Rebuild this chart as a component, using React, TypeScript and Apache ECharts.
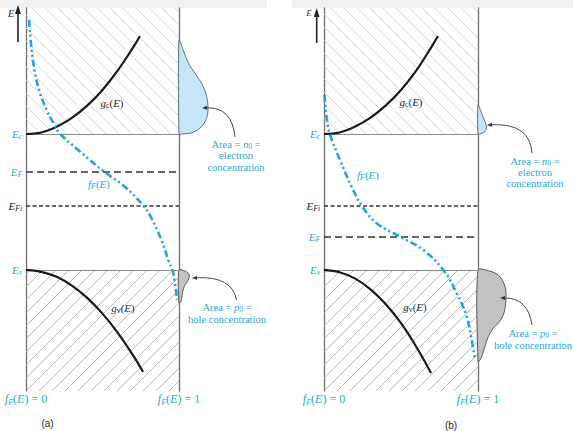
import React, { useEffect, useRef } from "react";
import * as echarts from "echarts";

const BLUE = "#29a8e0";
const CURVE_BLUE = "#1ca4e4";
const SERIF = "'Liberation Serif', 'DejaVu Serif', serif";

const E_MIN = 0;
const E_MAX = 100;

// energy levels: Ec, EF, EFi, Ev
const levelSubs = ["c", "F", "Fi", "v"];
const levelsA = [67.1, 57.2, 48.3, 31.6];
const levelsB = [67.1, 40.2, 48.3, 31.6];

// density of states curves (x = relative g, E)
const gcA = [[0, 67.1], [0.1, 67.5], [0.2, 69.0], [0.3, 71.3], [0.4, 74.5], [0.5, 78.6], [0.6, 83.7], [0.7, 89.7], [0.745, 92.7]];
const gvA = [[0, 31.6], [0.1, 31.1], [0.2, 29.8], [0.3, 27.5], [0.4, 24.3], [0.5, 20.2], [0.6, 15.2], [0.7, 9.3], [0.765, 5.0]];
const gcB = [[0, 67.1], [0.1, 67.5], [0.2, 69.0], [0.3, 71.3], [0.4, 74.5], [0.5, 78.6], [0.6, 83.7], [0.7, 90.0], [0.74, 92.7]];
const gvB = [[0, 31.6], [0.1, 31.0], [0.2, 29.4], [0.3, 26.6], [0.4, 22.7], [0.5, 17.7], [0.6, 11.5], [0.695, 4.7]];

// Fermi-Dirac functions (x = fF(E), E)
const fFA = [[0.02, 96.9], [0.037, 89.0], [0.059, 83.0], [0.092, 77.8], [0.135, 73.4], [0.179, 70.0], [0.218, 67.4], [0.342, 62.9], [0.516, 57.1], [0.647, 53.3], [0.767, 48.4], [0.82, 45.1], [0.886, 39.4], [0.93, 34.2], [0.962, 30.8], [0.987, 23.8]];
const fFB = [[0.003, 77.3], [0.017, 71.6], [0.039, 67.0], [0.104, 60.3], [0.18, 53.3], [0.245, 48.4], [0.342, 43.8], [0.494, 40.3], [0.645, 36.8], [0.775, 31.6], [0.862, 25.5], [0.927, 19.4], [0.959, 13.3], [0.981, 8.1]];

// carrier concentration shapes (x measured past fF = 1)
const n0A = [[1.0, 91.6], [1.028, 89.0], [1.061, 85.6], [1.105, 82.9], [1.148, 80.3], [1.176, 77.7], [1.188, 75.1], [1.188, 72.5], [1.17, 70.3], [1.137, 68.6], [1.083, 67.4], [1.018, 67.1], [1.0, 67.1]];
const p0A = [[1.0, 31.6], [1.05, 31.1], [1.067, 30.3], [1.061, 29.0], [1.039, 27.7], [1.024, 25.9], [1.013, 23.3], [1.0, 23.1]];
const n0B = [[1.0, 74.7], [1.024, 72.5], [1.045, 70.3], [1.056, 69.0], [1.045, 67.7], [1.013, 67.1], [1.0, 67.1]];
const p0B = [[1.0, 31.6], [1.078, 31.3], [1.132, 30.3], [1.164, 28.5], [1.18, 26.4], [1.18, 22.9], [1.164, 19.8], [1.132, 17.7], [1.099, 16.4], [1.067, 14.2], [1.045, 11.6], [1.024, 9.0], [1.013, 8.1], [1.0, 7.6]];

const xTicks = [0, 1];

function hatch(eLow: number, eHigh: number, dir: "down" | "up", color: string) {
  return (params: any, api: any) => {
    const a = api.coord([0, eHigh]);
    const b = api.coord([1, eLow]);
    const x0 = Math.min(a[0], b[0]), x1 = Math.max(a[0], b[0]);
    const y0 = Math.min(a[1], b[1]), y1 = Math.max(a[1], b[1]);
    const step = 13;
    const children: any[] = [];
    if (dir === "down") {
      for (let c = y0 - x1 + 4; c <= y1 - x0; c += step) {
        const xs = Math.max(x0, y0 - c), xe = Math.min(x1, y1 - c);
        if (xe > xs) children.push({ type: "line", shape: { x1: xs, y1: xs + c, x2: xe, y2: xe + c }, style: { stroke: color, lineWidth: 0.8 } });
      }
    } else {
      for (let c = x0 + y0 + 4; c <= x1 + y1; c += step) {
        const xs = Math.max(x0, c - y1), xe = Math.min(x1, c - y0);
        if (xe > xs) children.push({ type: "line", shape: { x1: xs, y1: c - xs, x2: xe, y2: c - xe }, style: { stroke: color, lineWidth: 0.8 } });
      }
    }
    return { type: "group", children };
  };
}

function polygon(points: number[][], fill: string, stroke: string) {
  return (params: any, api: any) => ({
    type: "polygon",
    shape: { points: points.map((p) => api.coord(p)), smooth: 0.25 },
    style: { fill, stroke, lineWidth: 0.9 },
  });
}

function levelLabel(sub: string, color: string) {
  return {
    show: true,
    position: "start",
    distance: 4,
    formatter: `{e|E}{s|${sub}}`,
    rich: {
      e: { fontFamily: SERIF, fontStyle: "italic", fontSize: 11, color, lineHeight: 13 },
      s: { fontFamily: SERIF, fontStyle: "italic", fontSize: 7.5, color, lineHeight: 4, verticalAlign: "bottom" },
    },
  };
}

const tk = (size: number, color: string, italic: boolean) => ({
  fontFamily: SERIF,
  fontSize: size,
  fill: color,
  fontStyle: italic ? "italic" : "normal",
  lineHeight: size + 2,
});
const subTk = (size: number, color: string, italic: boolean) => ({
  fontFamily: SERIF,
  fontSize: size,
  fill: color,
  fontStyle: italic ? "italic" : "normal",
  lineHeight: 3,
  verticalAlign: "bottom",
});

function rt(x: number, y: number, text: string, size: number, color: string, align = "center") {
  return {
    type: "text",
    x,
    y,
    silent: true,
    z: 100,
    style: {
      text,
      align,
      verticalAlign: "middle",
      fill: color,
      fontFamily: SERIF,
      fontSize: size,
      rich: {
        r: tk(size, color, false),
        i: tk(size, color, true),
        s: subTk(size * 0.72, color, false),
        si: subTk(size * 0.72, color, true),
      },
    },
  };
}

function arrow(sx: number, sy: number, cx: number, cy: number, ex: number, ey: number) {
  const dx = ex - cx, dy = ey - cy;
  const len = Math.hypot(dx, dy) || 1;
  const ux = dx / len, uy = dy / len;
  const L = 5, W = 2;
  const bx = ex - ux * L, by = ey - uy * L;
  return [
    { type: "bezierCurve", silent: true, z: 100, shape: { x1: sx, y1: sy, cpx1: cx, cpy1: cy, x2: bx, y2: by }, style: { stroke: "#4a4a4a", lineWidth: 1, fill: "none" } },
    { type: "polygon", silent: true, z: 100, shape: { points: [[ex, ey], [bx - uy * W, by + ux * W], [bx + uy * W, by - ux * W]] }, style: { fill: "#333" } },
  ];
}

const panels = [
  { grid: { left: 26, top: 8, width: 153, height: 383 }, levels: levelsA, gc: gcA, gv: gvA, fF: fFA, n0: n0A, p0: p0A },
  { grid: { left: 324, top: 8, width: 154, height: 383 }, levels: levelsB, gc: gcB, gv: gvB, fF: fFB, n0: n0B, p0: p0B },
];

export default function App() {
  const ref = useRef<HTMLDivElement>(null);
  useEffect(() => {
    if (!ref.current) return;
    const chart = echarts.init(ref.current, undefined, { renderer: "svg" });
    const grids: any[] = [];
    const xAxes: any[] = [];
    const yAxes: any[] = [];
    const series: any[] = [];
    panels.forEach((p, i) => {
      grids.push({ ...p.grid, containLabel: false });
      xAxes.push({
        gridIndex: i,
        type: "value",
        min: xTicks[0],
        max: xTicks[1],
        interval: 1,
        axisLine: { show: false },
        axisTick: { show: false },
        splitLine: { show: false },
        axisLabel: {
          showMinLabel: true,
          showMaxLabel: true,
          margin: 1,
          formatter: (v: number) => `{i|f}{s|F}{r|(}{i|E}{r|) = ${v}}`,
          rich: {
            i: { fontFamily: SERIF, fontStyle: "italic", fontSize: 12, color: BLUE, lineHeight: 14 },
            r: { fontFamily: SERIF, fontSize: 12, color: BLUE, lineHeight: 14 },
            s: { fontFamily: SERIF, fontStyle: "italic", fontSize: 8, color: BLUE, lineHeight: 3, verticalAlign: "bottom" },
          },
        },
      });
      const yBase = {
        gridIndex: i,
        type: "value",
        min: E_MIN,
        max: E_MAX,
        axisLine: { show: true, onZero: false, lineStyle: { color: "#6f6f6f", width: 1.3 } },
        axisTick: { show: false },
        axisLabel: { show: false },
        splitLine: { show: false },
      };
      yAxes.push({ ...yBase, position: "left" });
      yAxes.push({ ...yBase, position: "right" });
      const xi = i, yi = i * 2;
      series.push({ type: "custom", xAxisIndex: xi, yAxisIndex: yi, data: [[0, 0]], silent: true, clip: false, z: 1, renderItem: hatch(p.levels[0], E_MAX, "down", "#cdcdcd") });
      series.push({ type: "custom", xAxisIndex: xi, yAxisIndex: yi, data: [[0, 0]], silent: true, clip: false, z: 1, renderItem: hatch(E_MIN, p.levels[3], "up", "#aaaaaa") });
      series.push({ type: "custom", xAxisIndex: xi, yAxisIndex: yi, data: [[0, 0]], silent: true, clip: false, z: 2, renderItem: polygon(p.n0, "#c6e6f8", "#4a6478") });
      series.push({ type: "custom", xAxisIndex: xi, yAxisIndex: yi, data: [[0, 0]], silent: true, clip: false, z: 2, renderItem: polygon(p.p0, "#c2c2c2", "#4a4a4a") });
      series.push({
        type: "line",
        xAxisIndex: xi,
        yAxisIndex: yi,
        data: p.gc,
        smooth: 0.4,
        showSymbol: false,
        silent: true,
        z: 4,
        lineStyle: { color: "#1a1a1a", width: 2.2 },
        markLine: {
          silent: true,
          symbol: ["none", "none"],
          z: 3,
          data: [
            { yAxis: p.levels[0], lineStyle: { color: "#8a8a8a", type: "solid", width: 1.2 }, label: levelLabel(levelSubs[0], BLUE) },
            { yAxis: p.levels[1], lineStyle: { color: "#333", type: [7, 4], width: 1.6 }, label: levelLabel(levelSubs[1], BLUE) },
            { yAxis: p.levels[2], lineStyle: { color: "#333", type: [4, 2.5], width: 1.6 }, label: levelLabel(levelSubs[2], "#222") },
            { yAxis: p.levels[3], lineStyle: { color: "#8a8a8a", type: "solid", width: 1.2 }, label: levelLabel(levelSubs[3], BLUE) },
          ],
        },
      });
      series.push({ type: "line", xAxisIndex: xi, yAxisIndex: yi, data: p.gv, smooth: 0.4, showSymbol: false, silent: true, z: 4, lineStyle: { color: "#1a1a1a", width: 2.2 } });
      series.push({ type: "line", xAxisIndex: xi, yAxisIndex: yi, data: p.fF, smooth: 0.4, showSymbol: false, silent: true, clip: false, z: 5, lineStyle: { color: CURVE_BLUE, width: 2.6, type: [7, 3, 2, 3, 2, 3] } });
    });

    const graphic: any[] = [
      { type: "rect", silent: true, z: -1, shape: { x: 0, y: 0, width: 267, height: 8 }, style: { fill: "#f1f1f1" } },
      { type: "rect", silent: true, z: -1, shape: { x: 292, y: 0, width: 281, height: 8 }, style: { fill: "#f1f1f1" } },
      // E arrows
      { type: "line", silent: true, z: 100, shape: { x1: 18, y1: 42, x2: 18, y2: 12 }, style: { stroke: "#222", lineWidth: 1.6 } },
      { type: "polygon", silent: true, z: 100, shape: { points: [[15, 14], [18, 5], [21, 14]] }, style: { fill: "#222" } },
      rt(11, 13, "{i|E}", 11, "#333"),
      { type: "line", silent: true, z: 100, shape: { x1: 316.7, y1: 43, x2: 316.7, y2: 15 }, style: { stroke: "#222", lineWidth: 1.6 } },
      { type: "polygon", silent: true, z: 100, shape: { points: [[313.9, 17], [316.7, 8], [319.5, 17]] }, style: { fill: "#222" } },
      rt(309, 13, "{i|E}", 9, "#333"),
      // curve labels (a)
      rt(112, 103, "{i|g}{s|c}{r|(}{i|E}{r|)}", 11, "#2a2a2a"),
      rt(123, 308, "{i|g}{s|v}{r|(}{i|E}{r|)}", 11, "#2a2a2a"),
      rt(99, 184, "{i|f}{si|F}{r|(}{i|E}{r|)}", 11, BLUE),
      // curve labels (b)
      rt(411, 102, "{i|g}{s|c}{r|(}{i|E}{r|)}", 11, "#2a2a2a"),
      rt(415, 307, "{i|g}{s|v}{r|(}{i|E}{r|)}", 11, "#2a2a2a"),
      rt(368, 175, "{i|f}{si|F}{r|(}{i|E}{r|)}", 11, BLUE),
      // annotations (a)
      rt(236, 144, "{r|Area = }{i|n}{s|0}{r| =}", 10.5, BLUE),
      rt(236, 155.5, "{r|electron}", 10.5, BLUE),
      rt(236, 167, "{r|concentration}", 10.5, BLUE),
      rt(227, 307.5, "{r|Area = }{i|p}{s|0}{r| =}", 10.5, BLUE),
      rt(227, 319, "{r|hole concentration}", 10.5, BLUE),
      // annotations (b)
      rt(535, 161, "{r|Area = }{i|n}{s|0}{r| =}", 10.5, BLUE),
      rt(535, 172.3, "{r|electron}", 10.5, BLUE),
      rt(535, 183.5, "{r|concentration}", 10.5, BLUE),
      rt(533, 333.5, "{r|Area = }{i|p}{s|0}{r| =}", 10.5, BLUE),
      rt(533, 345.7, "{r|hole concentration}", 10.5, BLUE),
      ...arrow(235, 137, 232, 107, 202, 108),
      ...arrow(236.5, 300, 232, 276, 192, 278),
      ...arrow(532, 153, 530, 123, 487, 125),
      ...arrow(532, 325, 528, 298, 500, 298),
      { type: "text", silent: true, z: 100, x: 47.5, y: 423, style: { text: "(a)", align: "center", verticalAlign: "middle", fill: "#222", fontFamily: "'Liberation Sans', Arial, sans-serif", fontSize: 10 } },
      { type: "text", silent: true, z: 100, x: 451, y: 425, style: { text: "(b)", align: "center", verticalAlign: "middle", fill: "#222", fontFamily: "'Liberation Sans', Arial, sans-serif", fontSize: 10 } },
    ];

    chart.setOption({
      animation: false,
      backgroundColor: "#ffffff",
      grid: grids,
      xAxis: xAxes,
      yAxis: yAxes,
      series,
      graphic,
    });
    return () => chart.dispose();
  }, []);
  return <div ref={ref} style={{ position: "fixed", left: 0, top: 0, width: 573, height: 431 }} />;
}
